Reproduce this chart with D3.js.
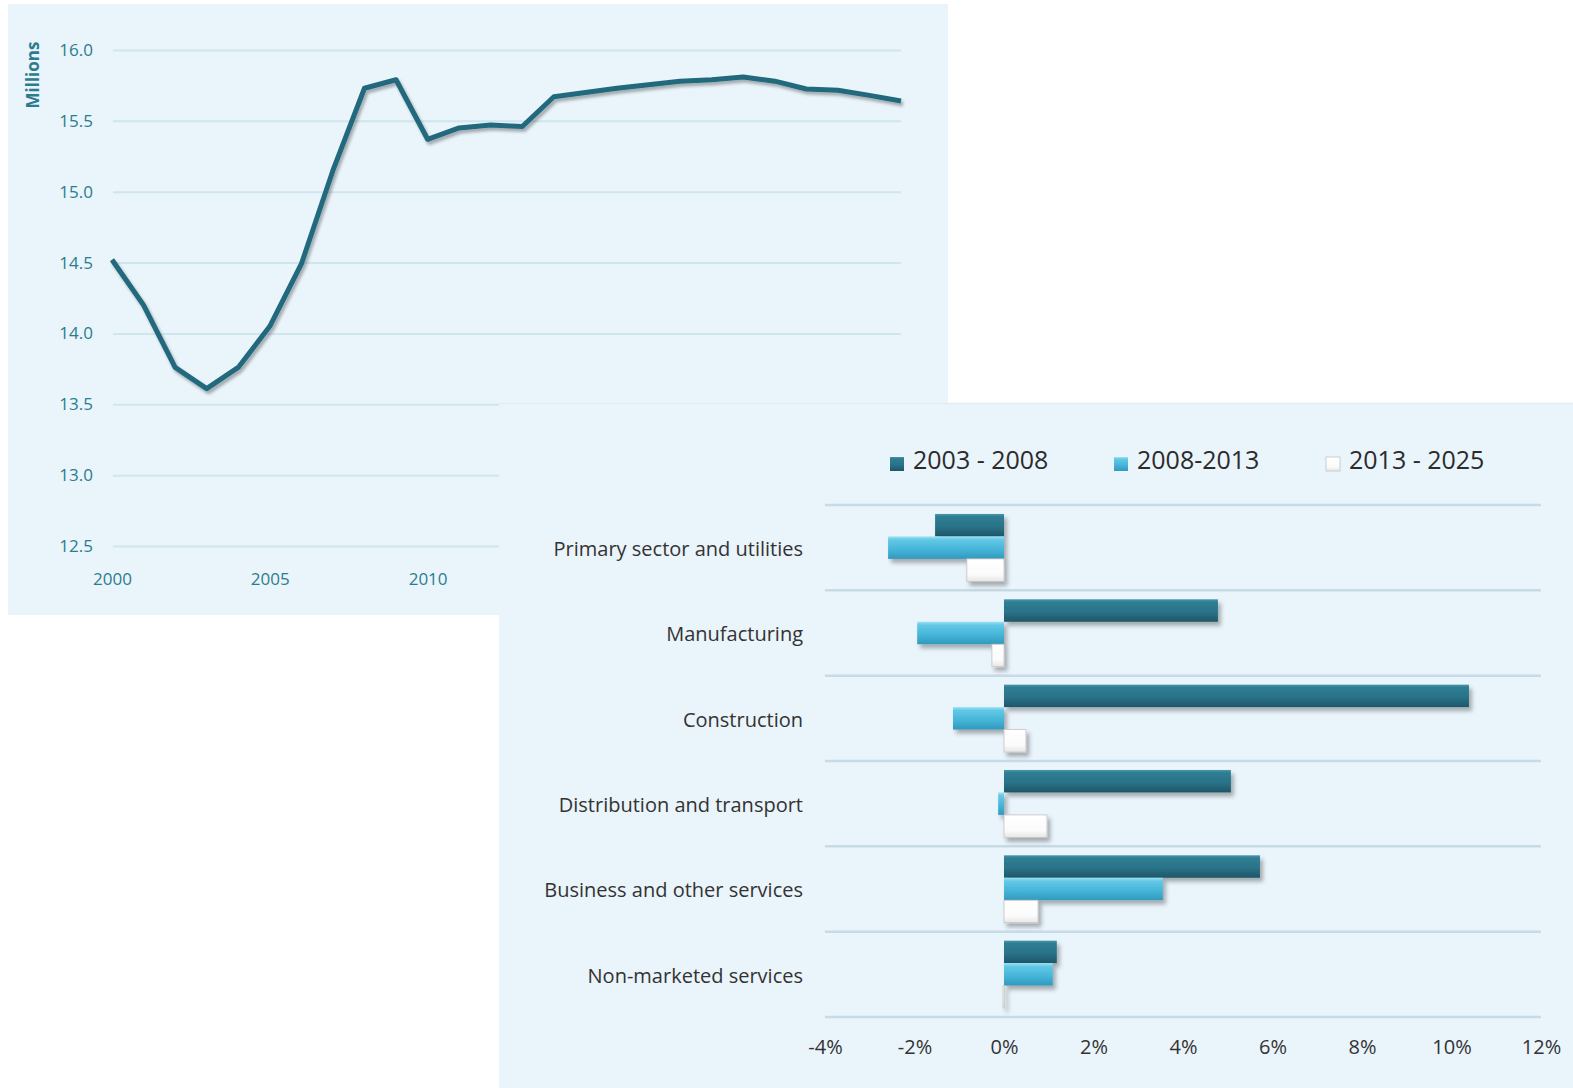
<!DOCTYPE html>
<html>
<head>
<meta charset="utf-8">
<script src="https://cdn.jsdelivr.net/npm/d3@7"></script>
<style>
  html, body { margin: 0; padding: 0; background: #ffffff; }
  svg { display: block; }
  .axis .domain { display: none; }
</style>
</head>
<body>
<svg id="chart" width="1573" height="1088"></svg>
<script>
// employment, millions (top-left line chart)
const years = [2000, 2001, 2002, 2003, 2004, 2005, 2006, 2007, 2008, 2009, 2010, 2011, 2012,
  2013, 2014, 2015, 2016, 2017, 2018, 2019, 2020, 2021, 2022, 2023, 2024, 2025];
const employment = [14.52, 14.2, 13.76, 13.61, 13.76, 14.05, 14.49, 15.15, 15.73, 15.79, 15.37, 15.45, 15.47,
  15.46, 15.67, 15.70, 15.73, 15.755, 15.78, 15.79, 15.81, 15.78, 15.725, 15.716, 15.68, 15.64];
const lineYTicks = [12.5, 13.0, 13.5, 14.0, 14.5, 15.0, 15.5, 16.0];
const lineXTicks = [2000, 2005, 2010, 2015, 2020, 2025];

// annual growth by sector, % (bar chart)
const sectors = ["Primary sector and utilities", "Manufacturing", "Construction",
  "Distribution and transport", "Business and other services", "Non-marketed services"];
const periods = ["2003 - 2008", "2008-2013", "2013 - 2025"];
const growth0308 = [-1.54, 4.78, 10.39, 5.07, 5.72, 1.18];
const growth0813 = [-2.59, -1.94, -1.14, -0.13, 3.55, 1.09];
const growth1325 = [-0.83, -0.27, 0.49, 0.96, 0.76, -0.02];
const barXTicks = [-4, -2, 0, 2, 4, 6, 8, 10, 12];

const svg = d3.select("#chart");
const defs = svg.append("defs");

const shadow = defs.append("filter").attr("id", "lineShadow")
  .attr("x", "-5%").attr("y", "-5%").attr("width", "110%").attr("height", "120%");
shadow.append("feDropShadow").attr("dx", 2).attr("dy", 3).attr("stdDeviation", 1.8)
  .attr("flood-color", "#000").attr("flood-opacity", 0.3);

const barShadow = defs.append("filter").attr("id", "barShadow")
  .attr("x", "-10%").attr("y", "-20%").attr("width", "130%").attr("height", "160%");
barShadow.append("feDropShadow").attr("dx", 3).attr("dy", 4).attr("stdDeviation", 2.2)
  .attr("flood-color", "#000").attr("flood-opacity", 0.3);

function gradient(id, stops) {
  const g = defs.append("linearGradient").attr("id", id)
    .attr("x1", 0).attr("y1", 0).attr("x2", 0).attr("y2", 1);
  stops.forEach(s => g.append("stop").attr("offset", s[0]).attr("stop-color", s[1]));
}
gradient("gDark", [[0, "#4a97ab"], [0.12, "#2f7e94"], [0.55, "#2a7389"], [1, "#1d5668"]]);
gradient("gCyan", [[0, "#9ae2f5"], [0.15, "#62c8e5"], [0.6, "#44b4d8"], [1, "#3299bb"]]);
gradient("gWhite", [[0, "#ffffff"], [0.7, "#fbfbfb"], [1, "#e6e6e6"]]);

// ---------- Line chart panel ----------
svg.append("rect").attr("x", 8).attr("y", 4).attr("width", 940).attr("height", 611)
  .attr("fill", "#e9f4fb");

const lx = d3.scaleLinear().domain([2000, 2025]).range([112, 901]);
const ly = d3.scaleLinear().domain([12.5, 16]).range([546, 50]);

const lineTeal = "#2c7c8e";

const yAx = svg.append("g").attr("class", "axis")
  .attr("transform", "translate(113,0)")
  .call(d3.axisLeft(ly).tickValues(lineYTicks).tickSize(-(901 - 113)).tickPadding(20)
    .tickFormat(d3.format(".1f")));
yAx.selectAll(".tick line").attr("stroke", "#cfe6ee").attr("stroke-width", 2);
yAx.selectAll(".tick text").attr("fill", lineTeal)
  .style("font", "17px 'Open Sans', sans-serif");

const xAx = svg.append("g").attr("class", "axis")
  .attr("transform", "translate(0,546)")
  .call(d3.axisBottom(lx).tickValues(lineXTicks).tickSize(0).tickPadding(27)
    .tickFormat(d3.format("d")));
xAx.selectAll(".tick text").attr("fill", lineTeal)
  .style("font", "17px 'Open Sans', sans-serif");

svg.append("text")
  .attr("transform", "translate(39,75) rotate(-90)")
  .attr("text-anchor", "middle")
  .attr("fill", lineTeal)
  .style("font", "bold 17px 'Open Sans', sans-serif")
  .text("Millions");

const line = d3.line()
  .x((d, i) => lx(years[i]))
  .y(d => ly(d));

svg.append("path")
  .datum(employment)
  .attr("d", line)
  .attr("fill", "none")
  .attr("stroke", "#21697e")
  .attr("stroke-width", 5)
  .attr("stroke-linejoin", "round")
  .attr("filter", "url(#lineShadow)");

// ---------- Bar chart panel ----------
svg.append("rect").attr("x", 499).attr("y", 403).attr("width", 1074).attr("height", 685)
  .attr("fill", "#eaf4fb");
svg.append("line").attr("x1", 499).attr("x2", 1573).attr("y1", 403.5).attr("y2", 403.5)
  .attr("stroke", "#e1edf4").attr("stroke-width", 1.5);

const bx = d3.scaleLinear().domain([-4, 12]).range([825, 1541]);
const by = d3.scaleBand().domain(sectors).range([505, 1017])
  .paddingInner(0.21).paddingOuter(0.105);
const inner = d3.scaleBand().domain(periods).range([0, by.bandwidth()]);

// separators between categories
const sepY = sectors.map(s => by(s) - by.step() * by.paddingOuter()).concat([1017]);
svg.append("g").selectAll("line").data(sepY).join("line")
  .attr("x1", bx(-4)).attr("x2", bx(12))
  .attr("y1", d => d).attr("y2", d => d)
  .attr("stroke", "#c6dbe5").attr("stroke-width", 2.5);

const seriesList = [
  { name: periods[0], values: growth0308, fill: "url(#gDark)", edge: "none" },
  { name: periods[1], values: growth0813, fill: "url(#gCyan)", edge: "none" },
  { name: periods[2], values: growth1325, fill: "url(#gWhite)", edge: "#c4c4c4" }
];

seriesList.forEach(s => {
  svg.append("g").attr("filter", "url(#barShadow)")
    .selectAll("rect").data(s.values).join("rect")
    .attr("x", d => bx(Math.min(0, d)))
    .attr("width", d => Math.max(1.5, Math.abs(bx(d) - bx(0))))
    .attr("y", (d, i) => by(sectors[i]) + inner(s.name))
    .attr("height", inner.bandwidth())
    .attr("fill", s.fill)
    .attr("stroke", s.edge)
    .attr("stroke-width", 0.8);
});

const catAx = svg.append("g").attr("class", "axis")
  .attr("transform", "translate(825,0)")
  .call(d3.axisLeft(by).tickSize(0).tickPadding(22));
catAx.selectAll(".tick text").attr("fill", "#333")
  .attr("dy", "0.42em")
  .style("font", "20px 'Open Sans', sans-serif");

const valAx = svg.append("g").attr("class", "axis")
  .attr("transform", "translate(0,1017)")
  .call(d3.axisBottom(bx).tickValues(barXTicks).tickSize(0).tickPadding(23)
    .tickFormat(d => d + "%"));
valAx.selectAll(".tick text").attr("fill", "#333")
  .style("font", "20px 'Open Sans', sans-serif");

// legend
const legendX = [890, 1114, 1326];
const legend = svg.append("g").selectAll("g").data(seriesList).join("g")
  .attr("transform", (d, i) => `translate(${legendX[i]},457)`);
legend.append("rect").attr("width", 14).attr("height", 14)
  .attr("fill", d => d.fill).attr("stroke", d => d.edge).attr("stroke-width", 0.8);
legend.append("text").attr("x", 23).attr("y", 12)
  .attr("fill", "#2b2b2b")
  .style("font", "25px 'Open Sans', sans-serif")
  .text(d => d.name);
</script>
</body>
</html>
